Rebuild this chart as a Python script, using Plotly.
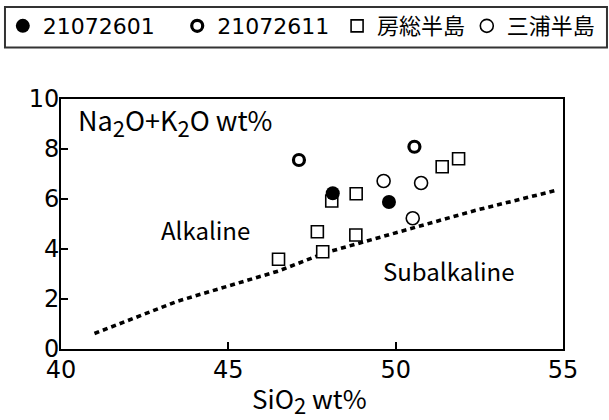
import plotly.graph_objects as go

TEXT_FONT = "Noto Sans CJK JP"
NUM_FONT = "DejaVu Sans, Noto Sans CJK JP"

# Data
s1_sio2 = [48.12, 49.80]          # 21072601
s1_alk = [6.23, 5.88]
s2_sio2 = [47.11, 50.56]          # 21072611
s2_alk = [7.56, 8.09]
boso_sio2 = [46.50, 47.66, 47.82, 48.09, 48.82, 48.81, 51.39, 51.88]   # 房総半島
boso_alk = [3.59, 4.69, 3.89, 5.92, 6.21, 4.56, 7.29, 7.61]
miura_sio2 = [49.64, 50.76, 50.51]  # 三浦半島
miura_alk = [6.72, 6.64, 5.23]

# Alkaline / Subalkaline boundary
line_sio2 = [41.0, 43.5, 46.5, 47.9, 50.3, 52.4, 54.75]
line_alk = [0.62, 1.92, 3.12, 3.85, 4.76, 5.55, 6.33]

x_ticks = [40, 45, 50, 55]
y_ticks = [0, 2, 4, 6, 8, 10]

fig = go.Figure()

fig.add_trace(go.Scatter(x=line_sio2, y=line_alk, mode="lines",
                         line=dict(color="black", width=3.6, dash="5px,4px"),
                         showlegend=False, hoverinfo="skip"))

fig.add_trace(go.Scatter(x=boso_sio2, y=boso_alk, mode="markers", name="房総半島",
                         legend="legend3",
                         marker=dict(symbol="square", size=12, color="white",
                                     line=dict(color="black", width=1.6))))
fig.add_trace(go.Scatter(x=miura_sio2, y=miura_alk, mode="markers", name="三浦半島",
                         legend="legend4",
                         marker=dict(symbol="circle", size=13, color="white",
                                     line=dict(color="black", width=1.6))))
fig.add_trace(go.Scatter(x=s1_sio2, y=s1_alk, mode="markers", name="21072601",
                         legend="legend",
                         marker=dict(symbol="circle", size=14, color="black",
                                     line=dict(color="black", width=0))))
fig.add_trace(go.Scatter(x=s2_sio2, y=s2_alk, mode="markers", name="21072611",
                         legend="legend2",
                         marker=dict(symbol="circle", size=11, color="white",
                                     line=dict(color="black", width=3.2))))

SUB2 = '<sub><span style="font-size:22px">2</span></sub>'
fig.add_annotation(x=40.45, y=9.09, xref="x", yref="y", xanchor="left",
                   text=f"Na{SUB2}O+K{SUB2}O wt%", showarrow=False,
                   font=dict(size=27, color="black", family=TEXT_FONT))
fig.add_annotation(x=44.33, y=4.8, xref="x", yref="y", text="Alkaline",
                   showarrow=False, font=dict(size=24, color="black", family=TEXT_FONT))
fig.add_annotation(x=51.58, y=3.16, xref="x", yref="y", text="Subalkaline",
                   showarrow=False, font=dict(size=24, color="black", family=TEXT_FONT))
fig.add_annotation(x=0.495, y=-0.29, xref="paper", yref="paper", text=f"SiO{SUB2} wt%",
                   showarrow=False, font=dict(size=26, color="black", family=TEXT_FONT))

# legend frame
fig.add_shape(type="rect", xref="paper", yref="paper",
              x0=-0.1116, x1=1.0876, y0=1.206, y1=1.368,
              line=dict(color="#333", width=2), fillcolor="rgba(0,0,0,0)")

fig.update_xaxes(range=[40, 55], tickvals=x_ticks, ticktext=[str(v) for v in x_ticks],
                 showline=True, mirror=True, linecolor="black", linewidth=2,
                 ticks="inside", ticklen=7, tickwidth=1.5, tickcolor="black",
                 showgrid=False, zeroline=False, automargin=False,
                 ticklabelstandoff=-2,
                 tickfont=dict(size=24, color="black", family=NUM_FONT))
fig.update_yaxes(range=[0, 10], tickvals=y_ticks, ticktext=[str(v) for v in y_ticks],
                 showline=True, mirror=True, linecolor="black", linewidth=2,
                 ticks="inside", ticklen=7, tickwidth=1.5, tickcolor="black",
                 showgrid=False, zeroline=False, automargin=False,
                 ticklabelstandoff=-5,
                 tickfont=dict(size=24, color="black", family=NUM_FONT))

leg_common = dict(orientation="h", yanchor="middle", xanchor="left",
                  xref="container", yref="container", y=0.938,
                  bgcolor="rgba(0,0,0,0)", borderwidth=0,
                  font=dict(size=22, color="black", family=NUM_FONT))

fig.update_layout(
    width=609, height=420,
    margin=dict(l=61, r=46, t=99, b=71, autoexpand=False),
    plot_bgcolor="white", paper_bgcolor="white",
    font=dict(family=TEXT_FONT, color="black"),
    legend=dict(x=0.0046, **leg_common),
    legend2=dict(x=0.291, **leg_common),
    legend3=dict(x=0.5535, **leg_common),
    legend4=dict(x=0.7665, **leg_common),
)

fig.write_html("out.html", config={"displayModeBar": False},
               post_script="document.body.style.margin='0';")
